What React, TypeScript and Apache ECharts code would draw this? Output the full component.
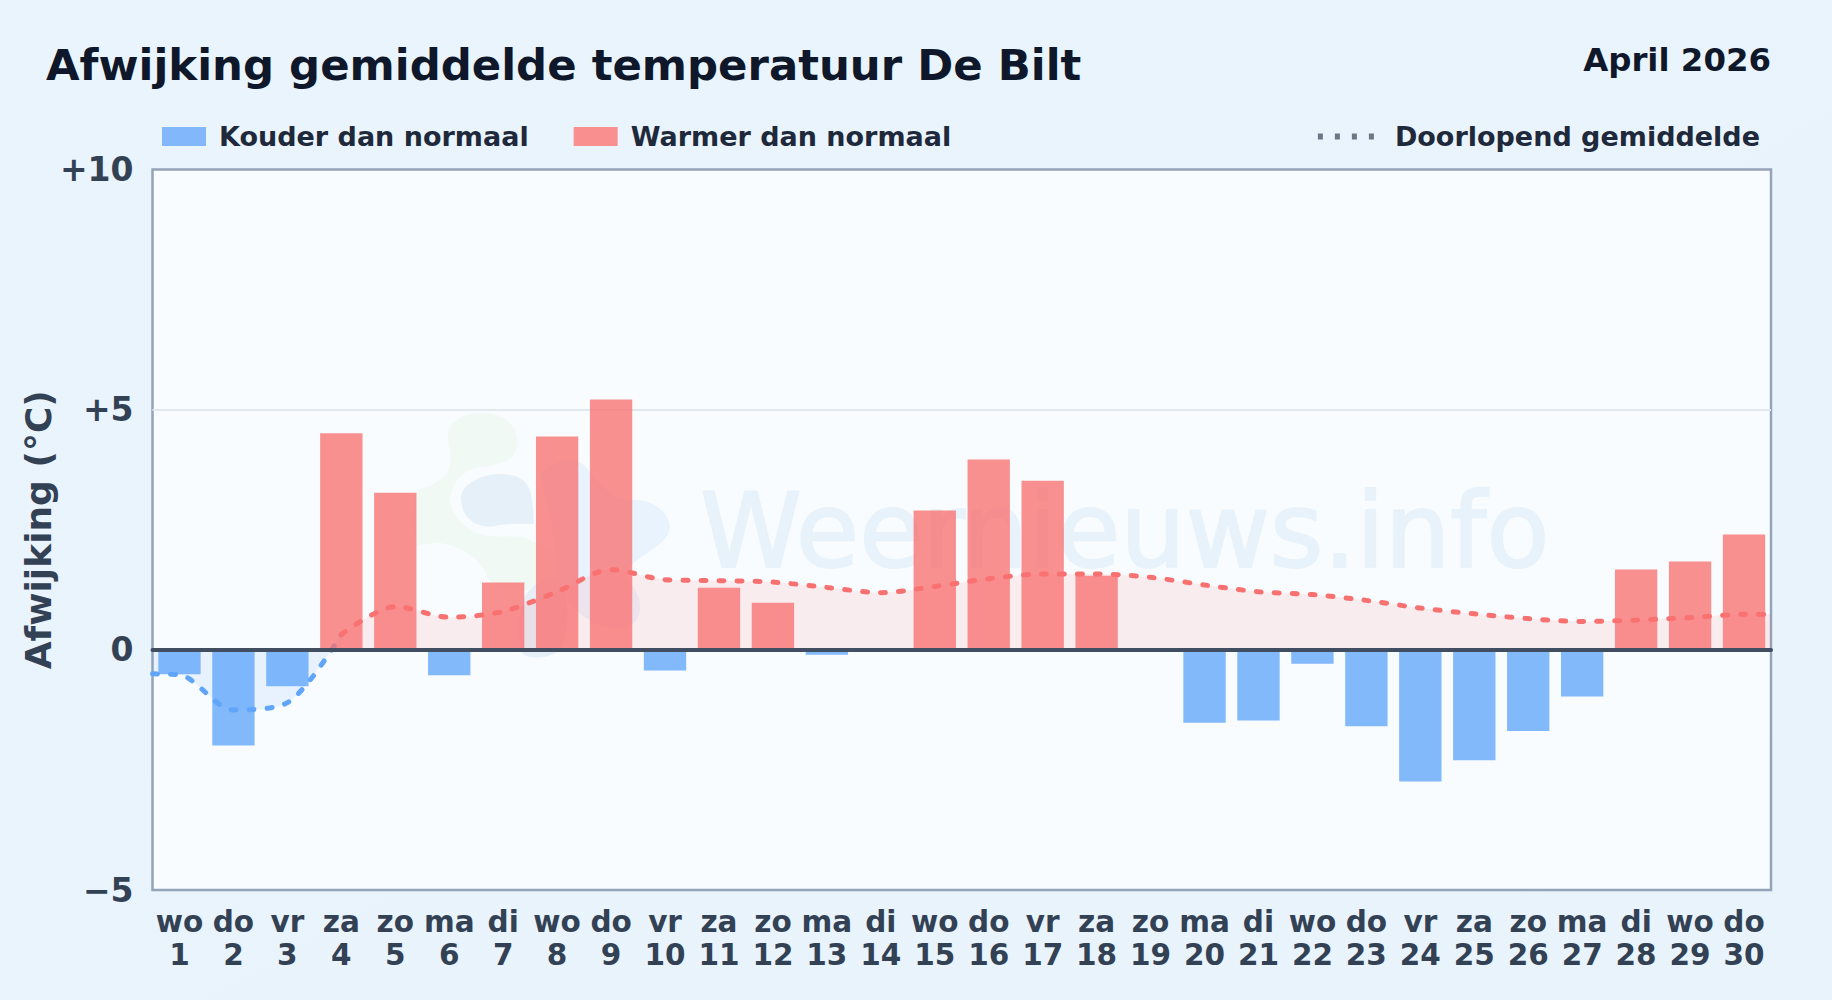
import React, { useEffect, useRef } from "react";
import * as echarts from "echarts";

const weekdays = ["wo","do","vr","za","zo","ma","di","wo","do","vr","za","zo","ma","di","wo","do","vr","za","zo","ma","di","wo","do","vr","za","zo","ma","di","wo","do"];
const dayNumbers = weekdays.map((_, i) => String(i + 1));
const deviations = [-0.51,-1.99,-0.76,4.51,3.27,-0.53,1.4,4.44,5.21,-0.43,1.29,0.98,-0.1,0,2.9,3.96,3.52,1.54,0,-1.52,-1.47,-0.29,-1.59,-2.74,-2.3,-1.69,-0.97,1.67,1.84,2.4];
const coldLineDays = [0.5,1,2,3,4];
const coldLineValues = [-0.5,-0.52,-1.25,-1.1,0.32];
const warmLineDays = [4,5,6,7,8,9,10,11,12,13,14,15,16,17,18,19,20,21,22,23,24,25,26,27,28,29,30,30.5];
const warmLineValues = [0.32,0.9,0.68,0.8,1.21,1.67,1.46,1.44,1.41,1.3,1.19,1.32,1.48,1.58,1.58,1.51,1.35,1.21,1.15,1.03,0.87,0.75,0.65,0.59,0.62,0.67,0.74,0.74];

const TITLE = "Afwijking gemiddelde temperatuur De Bilt";
const MONTH = "April 2026";
const COLD = "Kouder dan normaal";
const WARM = "Warmer dan normaal";
const AVG = "Doorlopend gemiddelde";
const FONT = "DejaVu Sans";

echarts.graphic.registerShape("wmGreen", echarts.graphic.extendPath(
  "M448 433C450 418 470 411 487 413C510 415 520 432 517 447C514 460 505 464 477 468C462 471 452 482 450 500C452 515 465 530 483 535C500 538 515 535 523 537C545 545 565 560 563 567C560 585 545 592 530 590C510 590 490 585 487 577C483 565 470 548 440 543C430 543 420 545 417 547C412 530 412 505 417 490C435 485 448 478 450 463C452 455 447 445 448 433Z", {}) as any);
echarts.graphic.registerShape("wmBlue", echarts.graphic.extendPath(
  "M461 497C462 485 480 474 500 474C515 474 525 478 530 490C533 503 534 515 534 524C520 524 510 523 495 526C480 528 470 522 465 514C462 508 461 503 461 497Z", {}) as any);
echarts.graphic.registerShape("wmSky", echarts.graphic.extendPath(
  "M540 475C555 458 575 456 585 466C595 478 610 500 630 500C650 498 668 510 670 527C668 540 655 548 640 558C630 565 625 570 625 578C640 590 645 610 635 622C625 632 605 630 590 620C570 610 560 590 557 570C555 540 550 510 540 475Z", {}) as any);
echarts.graphic.registerShape("wmLow", echarts.graphic.extendPath(
  "M523 600C530 585 545 575 560 580C570 600 570 630 560 650C552 658 530 660 523 654C518 640 518 620 523 600Z", {}) as any);

export default function App() {
  const ref = useRef<HTMLDivElement>(null);
  useEffect(() => {
    const chart = echarts.init(ref.current!, null, { renderer: "svg" });
    const labelStyle = { fontFamily: FONT, fontWeight: "bold" as const, color: "#334155" };
    chart.setOption({
      animation: false,
      backgroundColor: {
        type: "linear", x: 0, y: 0, x2: 1, y2: 1,
        colorStops: [{ offset: 0, color: "#eaf4fc" }, { offset: 1, color: "#e8f3fc" }],
      },
      textStyle: { fontFamily: FONT },
      legend: [
        {
          left: 162, top: 123, itemWidth: 44, itemHeight: 19, itemGap: 45,
          textStyle: { fontFamily: FONT, fontWeight: "bold", fontSize: 27, color: "#1e293b", padding: [0, 0, 0, 8] },
          data: [
            { name: COLD, icon: "rect", itemStyle: { color: "#82b7fc" } },
            { name: WARM, icon: "rect", itemStyle: { color: "#f98f8f" } },
          ],
          selectedMode: false,
          padding: 0,
        },
        {
          right: 72, top: 123, itemWidth: 56, itemHeight: 6,
          textStyle: { fontFamily: FONT, fontWeight: "bold", fontSize: 27, color: "#1e293b", padding: [0, 0, 0, 16] },
          data: [
            {
              name: AVG,
              icon: "path://M0 0h5v6H0zM17 0h5v6h-5zM34 0h5v6h-5zM51 0h5v6h-5z",
              itemStyle: { color: "#6b7785" },
            },
          ],
          selectedMode: false,
          padding: 0,
        },
      ],
      graphic: [
        { type: "text", x: 46, y: 43, z: 10, style: { text: TITLE, font: `bold 43.4px '${FONT}'`, fill: "#0f172a" } },
        { type: "text", x: 1771, y: 43.5, z: 10, style: { text: MONTH, font: `bold 32.4px '${FONT}'`, fill: "#0f172a", textAlign: "right" } },
        { type: "wmGreen", z: 1, style: { fill: "#f1f9f5" } },
        { type: "wmBlue", z: 1, style: { fill: "#e5f0f9" } },
        { type: "wmSky", z: 1, style: { fill: "#e9f3fd" } },
        { type: "wmLow", z: 1, style: { fill: "#e6eff8" } },
        { type: "text", x: 700, y: 479, z: 1, style: { text: "Weernieuws.info", font: `103px '${FONT}'`, fill: "#e8f2fa", stroke: "#e8f2fa", lineWidth: 2 } },
      ],
      grid: {
        left: 152.5, right: 61, top: 169.5, bottom: 110, show: true, outerBoundsMode: "none",
        backgroundColor: "#f8fcff", borderColor: "#94a3b8", borderWidth: 2.5,
      },
      xAxis: [
        {
          type: "category",
          data: weekdays.map((d, i) => `${d}\n${dayNumbers[i]}`),
          position: "bottom",
          axisLine: { show: false, onZero: false },
          axisTick: { show: false },
          axisLabel: { ...labelStyle, interval: 0, fontSize: 29.5, lineHeight: 32.5, margin: 16 },
        },
        {
          type: "value", min: 0.5, max: 30.5,
          axisLine: { show: true, onZero: true, lineStyle: { color: "#414d60", width: 4 } },
          axisTick: { show: false }, axisLabel: { show: false }, splitLine: { show: false }, z: 5,
        },
      ],
      yAxis: {
        type: "value", min: -5, max: 10, interval: 5,
        name: "Afwijking (°C)", nameLocation: "middle", nameRotate: 90, nameGap: 96, nameMoveOverlap: false,
        nameTextStyle: { ...labelStyle, fontSize: 36 },
        axisLine: { show: false }, axisTick: { show: false },
        splitLine: { show: true, lineStyle: { color: ["transparent", "transparent", "#e2e8f0", "transparent"], width: 2 } },
        axisLabel: {
          ...labelStyle, fontSize: 33, margin: 19,
          formatter: (v: number) => (v > 0 ? `+${v}` : v < 0 ? `\u2212${-v}` : "0"),
        },
      },
      series: [
        {
          name: AVG, type: "line", xAxisIndex: 1, smooth: 0.3, symbol: "none", z: 2,
          data: coldLineDays.map((d, i) => [d, coldLineValues[i]]),
          lineStyle: { color: "#60a5fa", width: 5, type: [5, 13], cap: "round" },
          areaStyle: { color: "rgba(96,165,250,0.15)", origin: 0 },
          itemStyle: { color: "#60a5fa" },
        },
        {
          name: AVG, type: "line", xAxisIndex: 1, smooth: 0.3, symbol: "none", z: 2,
          data: warmLineDays.map((d, i) => [d, warmLineValues[i]]),
          lineStyle: { color: "#f87171", width: 5, type: [5, 13], cap: "round" },
          areaStyle: { color: "rgba(252,100,100,0.15)", origin: 0 },
          itemStyle: { color: "#f87171" },
        },
        {
          name: COLD, type: "bar", stack: "dev", barWidth: "78.5%", z: 3,
          data: deviations.map((v) => (v < 0 ? v : null)),
          itemStyle: { color: "rgba(96,165,250,0.78)" },
        },
        {
          name: WARM, type: "bar", stack: "dev", barWidth: "78.5%", z: 3,
          data: deviations.map((v) => (v > 0 ? v : null)),
          itemStyle: { color: "rgba(248,113,113,0.78)" },
        },
      ],
    });
    return () => chart.dispose();
  }, []);
  return <div ref={ref} style={{ position: "fixed", left: 0, top: 0, width: 1832, height: 1000 }} />;
}
